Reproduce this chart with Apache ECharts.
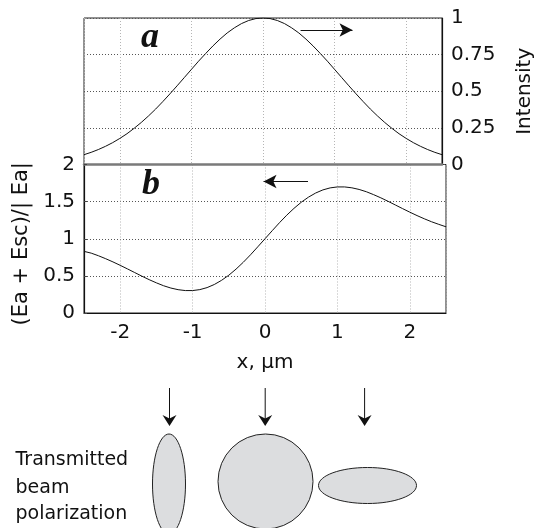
<!DOCTYPE html>
<html>
<head>
<meta charset="utf-8">
<script src="https://cdn.jsdelivr.net/npm/echarts@6/dist/echarts.min.js"></script>
<style>html,body{margin:0;padding:0;background:#fff}#c{width:543px;height:528px}</style>
</head>
<body>
<div id="c"></div>
<script>
// ---- data ----
const xValues = [-2.5,-2.4,-2.3,-2.2,-2.1,-2.0,-1.9,-1.8,-1.7,-1.6,-1.5,-1.4,-1.3,-1.2,-1.1,-1.0,-0.9,-0.8,-0.7,-0.6,-0.5,-0.4,-0.3,-0.2,-0.1,0,
  0.1,0.2,0.3,0.4,0.5,0.6,0.7,0.8,0.9,1.0,1.1,1.2,1.3,1.4,1.5,1.6,1.7,1.8,1.9,2.0,2.1,2.2,2.3,2.4,2.5];
const intensity = [0.067,0.083,0.102,0.124,0.149,0.178,0.210,0.247,0.287,0.331,0.378,0.429,0.482,0.537,0.593,0.649,0.705,0.758,0.809,0.856,0.898,0.933,0.962,0.983,0.996,1.000,
  0.996,0.983,0.962,0.933,0.898,0.856,0.809,0.758,0.705,0.649,0.593,0.537,0.482,0.429,0.378,0.331,0.287,0.247,0.210,0.178,0.149,0.124,0.102,0.083,0.067];
const ratio = [0.830,0.806,0.771,0.731,0.688,0.642,0.594,0.545,0.496,0.449,0.406,0.367,0.336,0.314,0.302,0.302,0.315,0.342,0.384,0.440,0.509,0.591,0.683,0.784,0.891,1.000,
  1.109,1.216,1.317,1.409,1.491,1.560,1.616,1.658,1.685,1.698,1.698,1.686,1.664,1.633,1.594,1.551,1.504,1.455,1.406,1.358,1.312,1.269,1.229,1.194,1.161];
const intensityTicks = [0, 0.25, 0.5, 0.75, 1];
const ratioTicks = [0, 0.5, 1, 1.5, 2];
const xTicks = [-2, -1, 0, 1, 2];
const xName = 'x, µm';
const intensityName = 'Intensity';
const ratioName = '(Ea + Esc)/| Ea|';
const caption = ['Transmitted', 'beam', 'polarization'];

const font = 'DejaVu Sans';
const pairs = (ys) => xValues.map((x, i) => [x, ys[i]]);

const chart = echarts.init(document.getElementById('c'), null, {renderer: 'canvas'});

const vGrid = {show: true, lineStyle: {color: '#b5b5b5', width: 1, type: [1, 2]}};
const hGrid = {show: true, lineStyle: {color: '#555', width: 1, type: [1, 2]}};

function arrowDown(cx) {
  return [
    {type: 'line', shape: {x1: cx, y1: 388, x2: cx, y2: 420}, style: {stroke: '#111', lineWidth: 1}},
    {type: 'polygon', shape: {points: [[cx, 426], [cx - 7, 415], [cx, 418.5], [cx + 7, 415]]}, style: {fill: '#111'}}
  ];
}

chart.setOption({
  animation: false,
  backgroundColor: '#fff',
  textStyle: {fontFamily: font},
  grid: [
    {left: 84, top: 18, width: 362, height: 146.5, show: true, borderColor: '#222', borderWidth: 1},
    {left: 84, top: 164.5, width: 362, height: 148.5, show: true, borderColor: '#222', borderWidth: 1}
  ],
  xAxis: [
    {gridIndex: 0, type: 'value', min: -2.5, max: 2.5, splitNumber: 5,
      axisLine: {show: true, onZero: false, lineStyle: {color: '#7a7a7a', width: 2.5}},
      axisTick: {show: false}, axisLabel: {show: false}, splitLine: vGrid},
    {gridIndex: 1, type: 'value', min: -2.5, max: 2.5, splitNumber: 5,
      name: xName, nameLocation: 'middle', nameGap: 40,
      nameTextStyle: {fontFamily: font, fontSize: 20, color: '#111'},
      axisLine: {show: true, onZero: false, lineStyle: {color: '#111', width: 1.2}},
      axisTick: {show: false},
      axisLabel: {fontFamily: font, fontSize: 20, color: '#111', margin: 10,
        formatter: v => xTicks.indexOf(v) >= 0 ? String(v) : ''},
      splitLine: vGrid}
  ],
  yAxis: [
    {gridIndex: 0, type: 'value', position: 'right', min: intensityTicks[0], max: intensityTicks[intensityTicks.length - 1], interval: 0.25,
      name: intensityName, nameLocation: 'middle', nameGap: 73,
      nameTextStyle: {fontFamily: font, fontSize: 20, color: '#111'},
      axisLine: {show: true, onZero: false, lineStyle: {color: '#111', width: 1.2}},
      axisTick: {show: false},
      axisLabel: {fontFamily: font, fontSize: 20, color: '#111', margin: 9},
      splitLine: hGrid},
    {gridIndex: 1, type: 'value', position: 'left', min: ratioTicks[0], max: ratioTicks[ratioTicks.length - 1], interval: 0.5,
      name: ratioName, nameLocation: 'middle', nameGap: 50,
      nameTextStyle: {fontFamily: font, fontSize: 21, color: '#111', padding: [0, 10, 0, 0]},
      axisLine: {show: true, onZero: false, lineStyle: {color: '#111', width: 1.2}},
      axisTick: {show: true, inside: true, length: 3, lineStyle: {color: '#444'}},
      axisLabel: {fontFamily: font, fontSize: 20, color: '#111', margin: 9},
      splitLine: hGrid}
  ],
  series: [
    {type: 'line', xAxisIndex: 0, yAxisIndex: 0, data: pairs(intensity), showSymbol: false, symbol: 'none',
      lineStyle: {color: '#111', width: 1}, silent: true,
      markLine: {silent: true, symbol: ['none', 'arrow'], symbolSize: [10, 13], label: {show: false},
        lineStyle: {color: '#111', width: 1, type: 'solid'},
        data: [[{coord: [0.525, 0.918]}, {coord: [1.25, 0.918]}]]}},
    {type: 'line', xAxisIndex: 1, yAxisIndex: 1, data: pairs(ratio), showSymbol: false, symbol: 'none',
      lineStyle: {color: '#111', width: 1}, silent: true,
      markLine: {silent: true, symbol: ['none', 'arrow'], symbolSize: [10, 13], label: {show: false},
        lineStyle: {color: '#111', width: 1, type: 'solid'},
        data: [[{coord: [0.594, 1.771]}, {coord: [-0.02, 1.771]}]]}}
  ],
  graphic: [
    {type: 'text', x: 150, y: 38, style: {text: 'a', font: 'bold italic 36px "Liberation Serif"', fill: '#111', align: 'center', verticalAlign: 'middle'}},
    {type: 'text', x: 151, y: 185, style: {text: 'b', font: 'bold italic 36px "Liberation Serif"', fill: '#111', align: 'center', verticalAlign: 'middle'}},
    ...arrowDown(169.5), ...arrowDown(265.2), ...arrowDown(364.6),
    {type: 'ellipse', shape: {cx: 169, cy: 484, rx: 16.5, ry: 50}, style: {fill: '#dcdddf', stroke: '#222', lineWidth: 1}},
    {type: 'circle', shape: {cx: 265.5, cy: 481.5, r: 47.5}, style: {fill: '#dcdddf', stroke: '#222', lineWidth: 1}},
    {type: 'ellipse', shape: {cx: 367.5, cy: 485.5, rx: 49, ry: 18}, style: {fill: '#dcdddf', stroke: '#222', lineWidth: 1}},
    {type: 'text', x: 15.5, y: 460.4, style: {text: caption[0], font: '19px "DejaVu Sans"', fill: '#111', align: 'left', verticalAlign: 'middle'}},
    {type: 'text', x: 15.5, y: 488.4, style: {text: caption[1], font: '19px "DejaVu Sans"', fill: '#111', align: 'left', verticalAlign: 'middle'}},
    {type: 'text', x: 15.5, y: 514.4, style: {text: caption[2], font: '19px "DejaVu Sans"', fill: '#111', align: 'left', verticalAlign: 'middle'}}
  ]
});
</script>
</body>
</html>
